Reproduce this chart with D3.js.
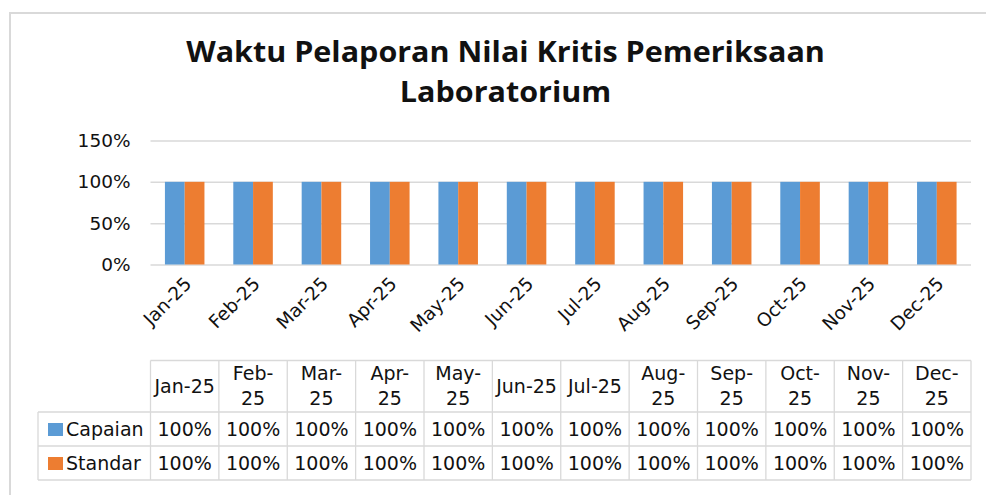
<!DOCTYPE html>
<html lang="en">
<head>
  <meta charset="UTF-8">
  <title>Waktu Pelaporan Nilai Kritis</title>
  <script src="https://d3js.org/d3.v7.min.js"></script>
  <style>
    body { margin: 0; background: #fff; }
    text { font-family: "DejaVu Sans", sans-serif; fill: #111; }
  </style>
</head>
<body>
  <svg width="986" height="495" id="chart"></svg>
  <script>
    const months = ['Jan-25', 'Feb-25', 'Mar-25', 'Apr-25', 'May-25', 'Jun-25',
      'Jul-25', 'Aug-25', 'Sep-25', 'Oct-25', 'Nov-25', 'Dec-25'];
    const capaian = [100, 100, 100, 100, 100, 100, 100, 100, 100, 100, 100, 100];
    const standar = [100, 100, 100, 100, 100, 100, 100, 100, 100, 100, 100, 100];
    const seriesNames = ['Capaian', 'Standar'];
    const yTicks = [0, 50, 100, 150];
    const titleLines = ['Waktu Pelaporan Nilai Kritis Pemeriksaan', 'Laboratorium'];

    const colors = ['#5B9BD5', '#ED7D31'];
    const gridColor = '#d9d9d9';

    const svg = d3.select('#chart');

    // frame
    svg.append('rect')
      .attr('x', 10).attr('y', 13)
      .attr('width', 1000).attr('height', 520)
      .attr('fill', 'none')
      .attr('stroke', gridColor)
      .attr('stroke-width', 2);

    // title (stretched a little to match the original's wide letterforms)
    const titleX = 505.5;
    svg.append('text')
      .attr('text-anchor', 'middle')
      .style('font-family', '"Open Sans", sans-serif')
      .attr('font-size', 28)
      .attr('font-weight', 'bold')
      .attr('transform', `translate(${titleX},0) scale(1.09,1)`)
      .selectAll('tspan')
      .data(titleLines)
      .join('tspan')
      .attr('x', 0)
      .attr('y', (d, i) => 62 + i * 40)
      .text(d => d);

    const left = 150.5, right = 971;
    const x = d3.scaleBand().domain(months).range([left, right]);
    const xs = d3.scaleBand().domain(seriesNames).range([0, x.bandwidth()]).paddingOuter(0.73);
    const y = d3.scaleLinear().domain([0, 150]).range([264.5, 140.5]);

    // grid + y labels
    const yAxis = d3.axisLeft(y)
      .tickValues(yTicks)
      .tickSize(-(right - left))
      .tickFormat(d => d + '%')
      .tickPadding(20);
    const ga = svg.append('g')
      .attr('transform', `translate(${left},0)`)
      .call(yAxis);
    ga.select('.domain').remove();
    ga.selectAll('.tick line').attr('stroke', gridColor).attr('stroke-width', 1.5);
    ga.selectAll('.tick text')
      .attr('font-size', 18.5)
      .attr('fill', '#111');

    // bars
    const rows = [capaian, standar];
    const bars = svg.append('g');
    rows.forEach((vals, s) => {
      bars.selectAll(null)
        .data(vals)
        .join('rect')
        .attr('x', (d, i) => x(months[i]) + xs(seriesNames[s]))
        .attr('width', xs.bandwidth())
        .attr('y', d => y(d))
        .attr('height', d => y(0) - y(d))
        .attr('fill', colors[s]);
    });

    // rotated month labels
    svg.append('g')
      .selectAll('text')
      .data(months)
      .join('text')
      .attr('font-size', 18.5)
      .attr('text-anchor', 'end')
      .attr('transform', d => `translate(${x(d) + x.bandwidth() / 2 + 8},${285}) rotate(-45)`)
      .text(d => d);

    // data table
    const tTop = 360.5, hBottom = 412, rowH = 34, legLeft = 38;
    const table = svg.append('g')
      .attr('stroke', gridColor)
      .attr('stroke-width', 1.3);
    const hLines = [
      { x1: left, y: tTop },
      { x1: legLeft, y: hBottom },
      { x1: legLeft, y: hBottom + rowH },
      { x1: legLeft, y: hBottom + rowH * 2 }
    ];
    table.selectAll('line.h')
      .data(hLines)
      .join('line')
      .attr('x1', d => d.x1).attr('x2', right)
      .attr('y1', d => d.y).attr('y2', d => d.y);
    const vx = months.map(m => x(m)).concat([right]);
    table.selectAll('line.v')
      .data(vx)
      .join('line')
      .attr('x1', d => d).attr('x2', d => d)
      .attr('y1', tTop).attr('y2', hBottom + rowH * 2);
    table.append('line')
      .attr('x1', legLeft).attr('x2', legLeft)
      .attr('y1', hBottom).attr('y2', hBottom + rowH * 2);

    // header labels, wrapped at the hyphen when they don't fit
    const head = svg.append('g').attr('font-size', 19).attr('text-anchor', 'middle');
    months.forEach(m => {
      const cx = x(m) + x.bandwidth() / 2;
      const t = head.append('text').attr('x', cx).attr('y', 393).text(m);
      if (t.node().getComputedTextLength() > x.bandwidth() - 6) {
        const parts = m.split('-');
        t.text(null);
        t.append('tspan').attr('x', cx).attr('y', 380).text(parts[0] + '-');
        t.append('tspan').attr('x', cx).attr('y', 405).text(parts[1]);
      }
    });

    // series rows
    rows.forEach((vals, s) => {
      const base = hBottom + rowH * s + 24;
      svg.append('rect')
        .attr('x', 48).attr('y', base - 13)
        .attr('width', 15).attr('height', 13)
        .attr('fill', colors[s]);
      svg.append('text')
        .attr('x', 66).attr('y', base)
        .attr('font-size', 19)
        .text(seriesNames[s]);
      svg.append('g')
        .attr('font-size', 19)
        .attr('text-anchor', 'middle')
        .selectAll('text')
        .data(vals)
        .join('text')
        .attr('x', (d, i) => x(months[i]) + x.bandwidth() / 2)
        .attr('y', base)
        .text(d => d + '%');
    });
  </script>
</body>
</html>
